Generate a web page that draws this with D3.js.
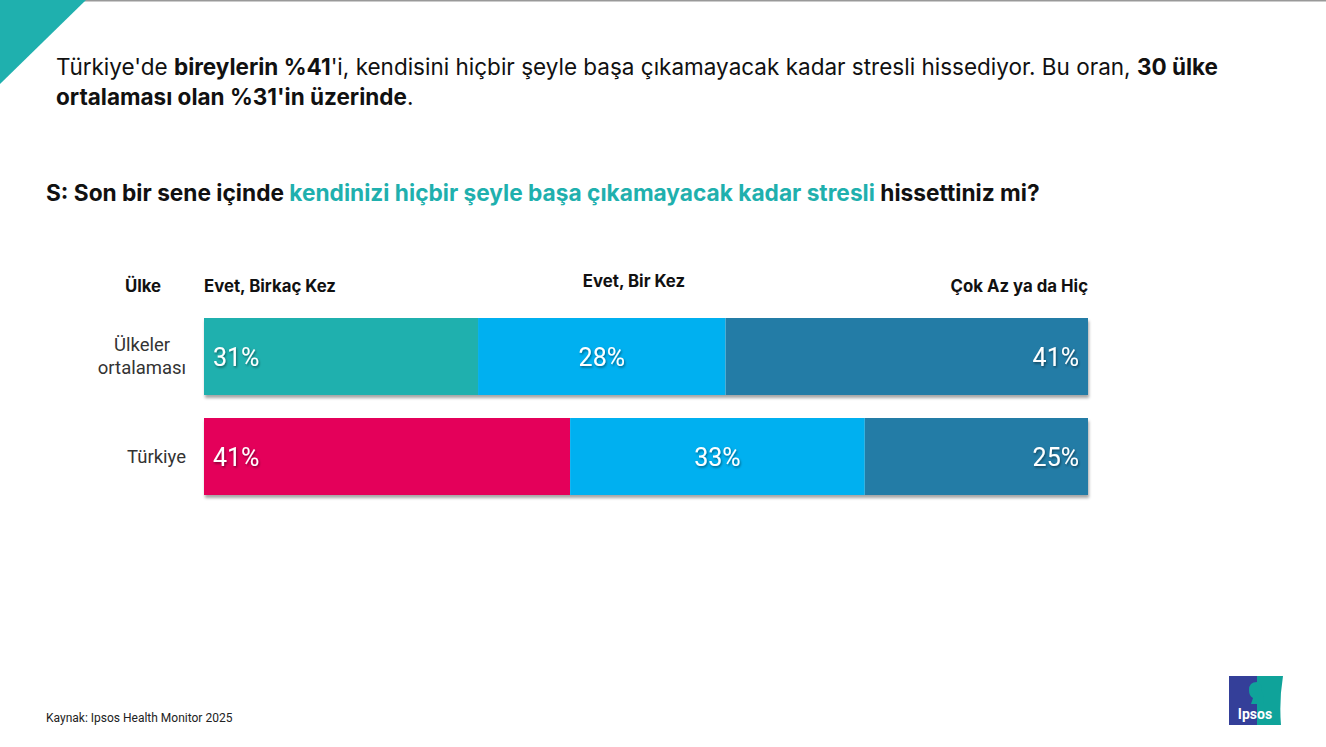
<!DOCTYPE html>
<html>
<head>
<meta charset="utf-8">
<script src="https://cdn.jsdelivr.net/npm/d3@7"></script>
<style>
  body { margin: 0; background: #fff; }
  svg { display: block; font-family: Inter, Roboto, sans-serif; }
</style>
</head>
<body>
<div id="chart"></div>
<script>
// Data
const countries = ["Ülkeler ortalaması", "Türkiye"];
const answers = ["Evet, Birkaç Kez", "Evet, Bir Kez", "Çok Az ya da Hiç"];
const averageValues = [31, 28, 41];
const turkeyValues = [41, 33, 25];
const seriesValues = [averageValues, turkeyValues];

const W = 1326, H = 747;
const svg = d3.select("#chart").append("svg").attr("width", W).attr("height", H);

const defs = svg.append("defs");
const sh = defs.append("filter").attr("id", "barShadow").attr("x", "-5%").attr("y", "-10%").attr("width", "110%").attr("height", "130%");
sh.append("feDropShadow").attr("dx", 1).attr("dy", 3).attr("stdDeviation", 1.6).attr("flood-color", "#000").attr("flood-opacity", 0.35);
const ts = defs.append("filter").attr("id", "textShadow");
ts.append("feDropShadow").attr("dx", 1).attr("dy", 1.5).attr("stdDeviation", 0.8).attr("flood-color", "#000").attr("flood-opacity", 0.45);

// top frame line + corner triangle
svg.append("rect").attr("x", 0).attr("y", 0).attr("width", W).attr("height", 1.5).attr("fill", "#999");
svg.append("path").attr("d", "M0,0 L86,0 L0,84 Z").attr("fill", "#1fb0ae");

// headline
const head = svg.append("text").attr("x", 56).attr("font-size", 22.5).attr("fill", "#111");
const l1 = head.append("tspan").attr("x", 56).attr("y", 75);
l1.append("tspan").text("Türkiye'de ");
l1.append("tspan").attr("font-weight", 700).text("bireylerin %41");
l1.append("tspan").text("'i, kendisini hiçbir şeyle başa çıkamayacak kadar stresli hissediyor. Bu oran, ");
l1.append("tspan").attr("font-weight", 700).text("30 ülke");
const l2 = head.append("tspan").attr("x", 56).attr("y", 105);
l2.append("tspan").attr("font-weight", 700).text("ortalaması olan %31'in üzerinde");
l2.append("tspan").text(".");

// question
const q = svg.append("text").attr("x", 46).attr("y", 201).attr("font-size", 22.7).attr("font-weight", 700).attr("fill", "#111");
q.append("tspan").text("S: Son bir sene içinde ");
q.append("tspan").attr("fill", "#1fb0ae").text("kendinizi hiçbir şeyle başa çıkamayacak kadar stresli");
q.append("tspan").text(" hissettiniz mi?");

// scales
const x0 = 204, x1 = 1088;
const y = d3.scaleBand().domain(countries).range([318, 495]).paddingInner(0.23).paddingOuter(0);
const colors = d3.scaleOrdinal().domain(answers).range(["#1fb0ae", "#00b0f0", "#237ca6"]);
const firstColor = ["#1fb0ae", "#e4005a"];

// column headers
const hdr = svg.append("g").attr("font-size", 16.8).attr("font-weight", 700).attr("fill", "#111");
hdr.append("text").attr("x", 143).attr("y", 292).attr("text-anchor", "middle").text("Ülke");
hdr.append("text").attr("x", x0).attr("y", 292).text(answers[0]);
hdr.append("text").attr("x", 634).attr("y", 287).attr("text-anchor", "middle").text(answers[1]);
hdr.append("text").attr("x", x1).attr("y", 292).attr("text-anchor", "end").text(answers[2]);

countries.forEach((c, i) => {
  const vals = seriesValues[i];
  const total = d3.sum(vals);
  const x = d3.scaleLinear().domain([0, total]).range([x0, x1]);
  const stacked = [];
  let acc = 0;
  vals.forEach((v, j) => { stacked.push({ key: answers[j], v, a: acc, b: acc + v }); acc += v; });

  const g = svg.append("g");
  g.append("rect").attr("x", x0).attr("y", y(c)).attr("width", x1 - x0).attr("height", y.bandwidth())
    .attr("fill", "#fff").attr("filter", "url(#barShadow)");
  g.selectAll("rect.seg").data(stacked).enter().append("rect").attr("class", "seg")
    .attr("x", d => x(d.a)).attr("y", y(c))
    .attr("width", d => x(d.b) - x(d.a)).attr("height", y.bandwidth())
    .attr("fill", (d, j) => j === 0 ? firstColor[i] : colors(d.key));

  g.selectAll("text.val").data(stacked).enter().append("text").attr("class", "val")
    .attr("x", (d, j) => j === 0 ? x(d.a) + 9 : j === 2 ? x(d.b) - 9 : (x(d.a) + x(d.b)) / 2)
    .attr("y", y(c) + y.bandwidth() / 2 + 9)
    .attr("text-anchor", (d, j) => j === 0 ? "start" : j === 2 ? "end" : "middle")
    .attr("font-size", 25).attr("fill", "#fff").attr("font-family", "Roboto, sans-serif")
    .attr("filter", "url(#textShadow)")
    .text(d => d.v + "%");

  // row label
  const words = c === "Ülkeler ortalaması" ? ["Ülkeler", "ortalaması"] : [c];
  const multi = words.length > 1;
  const lab = svg.append("text").attr("text-anchor", multi ? "middle" : "end").attr("font-size", 18.5).attr("fill", "#333")
    .attr("font-family", "Roboto, sans-serif");
  const cy = y(c) + y.bandwidth() / 2;
  words.forEach((w, k) => {
    lab.append("tspan").attr("x", multi ? 142 : 186)
      .attr("y", cy + 6 + (k - (words.length - 1) / 2) * 23).text(w);
  });
});

// footer
svg.append("text").attr("x", 46).attr("y", 722).attr("font-size", 12).attr("fill", "#222")
  .attr("font-family", "Roboto, sans-serif").text("Kaynak: Ipsos Health Monitor 2025");

// logo
const logo = svg.append("g").attr("transform", "translate(1229,676)");
logo.append("path").attr("d", "M25,0 L54,0 Q50,25 52,49 L25,49 Z").attr("fill", "#0fa39a");
logo.append("rect").attr("x", 0).attr("y", 0).attr("width", 28).attr("height", 49).attr("fill", "#343f99");
logo.append("path").attr("d", "M28,6 Q20,6 20,14 Q20,20 24,22 L22,28 L34,28 Q36,20 33,16 Q34,8 28,6 Z").attr("fill", "#0fa39a");
logo.append("text").attr("x", 26).attr("y", 43).attr("text-anchor", "middle").attr("font-size", 14)
  .attr("font-weight", 700).attr("fill", "#fff").attr("font-family", "Roboto, sans-serif").text("Ipsos");
</script>
</body>
</html>
